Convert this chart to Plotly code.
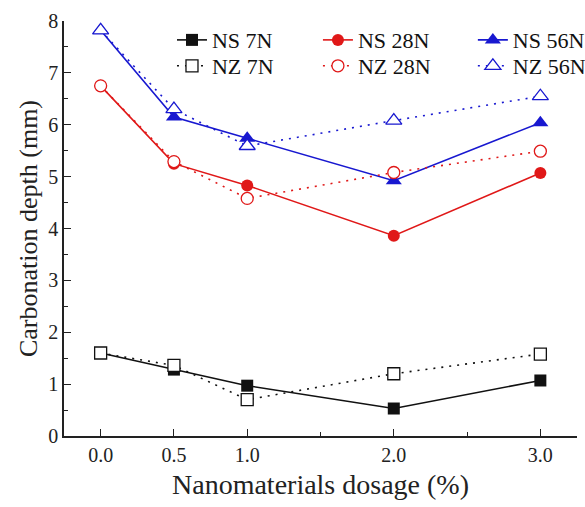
import plotly.graph_objects as go

dosage = [0.0, 0.5, 1.0, 2.0, 3.0]
ns_7n = [1.60, 1.28, 0.97, 0.53, 1.07]
nz_7n = [1.60, 1.36, 0.70, 1.20, 1.58]
ns_28n = [6.75, 5.25, 4.83, 3.86, 5.07]
nz_28n = [6.75, 5.29, 4.58, 5.08, 5.49]
ns_56n = [7.82, 6.15, 5.74, 4.92, 6.04]
nz_56n = [7.82, 6.30, 5.59, 6.08, 6.55]
x_tickvals = [0.0, 0.5, 1.0, 2.0, 3.0]
x_ticktext = ["0.0", "0.5", "1.0", "2.0", "3.0"]

BLACK = "#111111"
RED = "#e01818"
BLUE = "#1818d0"
FONT = "Liberation Serif"

fig = go.Figure()

# name, values, colour, symbol, dash, filled, legend id, legend x (paper), legend y (paper)
series = [
    ("NS 7N", ns_7n, BLACK, "square", "solid", True, "legend", 0.2105, 0.954),
    ("NS 28N", ns_28n, RED, "circle", "solid", True, "legend2", 0.495, 0.954),
    ("NS 56N", ns_56n, BLUE, "triangle-up", "solid", True, "legend3", 0.797, 0.954),
    ("NZ 7N", nz_7n, BLACK, "square", "2px,6px", False, "legend4", 0.2105, 0.8916),
    ("NZ 28N", nz_28n, RED, "circle", "2px,6px", False, "legend5", 0.495, 0.8916),
    ("NZ 56N", nz_56n, BLUE, "triangle-up", "2px,6px", False, "legend6", 0.797, 0.8916),
]

legend_layout = {}
for name, ys, col, sym, dash, filled, lg, lx, ly in series:
    size = 14 if "triangle" in sym else 12
    if filled:
        marker = dict(symbol=sym, size=size, color=col, line=dict(color=col, width=0))
    else:
        marker = dict(symbol=sym, size=size, color="white", line=dict(color=col, width=1.3))
    fig.add_trace(go.Scatter(
        x=dosage, y=ys, name=name, mode="lines+markers",
        line=dict(color=col, width=1.6, dash=dash),
        marker=marker, legend=lg, showlegend=True,
    ))
    legend_layout[lg] = dict(
        x=lx, y=ly, xanchor="left", yanchor="middle", visible=True,
        font=dict(family=FONT, size=22, color="#111111"),
        bgcolor="rgba(0,0,0,0)", borderwidth=0,
    )

fig.update_layout(
    width=585, height=507,
    showlegend=True,
    margin=dict(l=64, r=8, t=21, b=71, autoexpand=False),
    paper_bgcolor="white", plot_bgcolor="white",
    font=dict(family=FONT, color="#111111"),
    xaxis=dict(
        range=[-0.25, 3.25], tickvals=x_tickvals, ticktext=x_ticktext,
        ticks="inside", ticklen=7, tickwidth=1.3, tickcolor="#222222",
        showline=True, linecolor="#222222", linewidth=1.5, mirror=False,
        showgrid=False, zeroline=False,
        minor=dict(tickvals=[1.5, 2.5], ticks="inside", ticklen=4, tickwidth=1.3, tickcolor="#222222"),
        tickfont=dict(family=FONT, size=20, color="#222222"),
        title=dict(text="Nanomaterials dosage (%)", font=dict(family=FONT, size=28, color="#222222"), standoff=10),
    ),
    yaxis=dict(
        range=[0, 8], dtick=1, ticks="inside", ticklen=7, tickwidth=1.3, tickcolor="#222222",
        showline=True, linecolor="#222222", linewidth=1.5, mirror=False,
        showgrid=False, zeroline=False,
        minor=dict(dtick=0.5, ticks="inside", ticklen=4, tickwidth=1.3, tickcolor="#222222"),
        tickfont=dict(family=FONT, size=20, color="#222222"),
        title=dict(text="Carbonation depth (mm)", font=dict(family=FONT, size=26, color="#222222"), standoff=3),
    ),
    **legend_layout,
)

fig.write_html("out.html")
